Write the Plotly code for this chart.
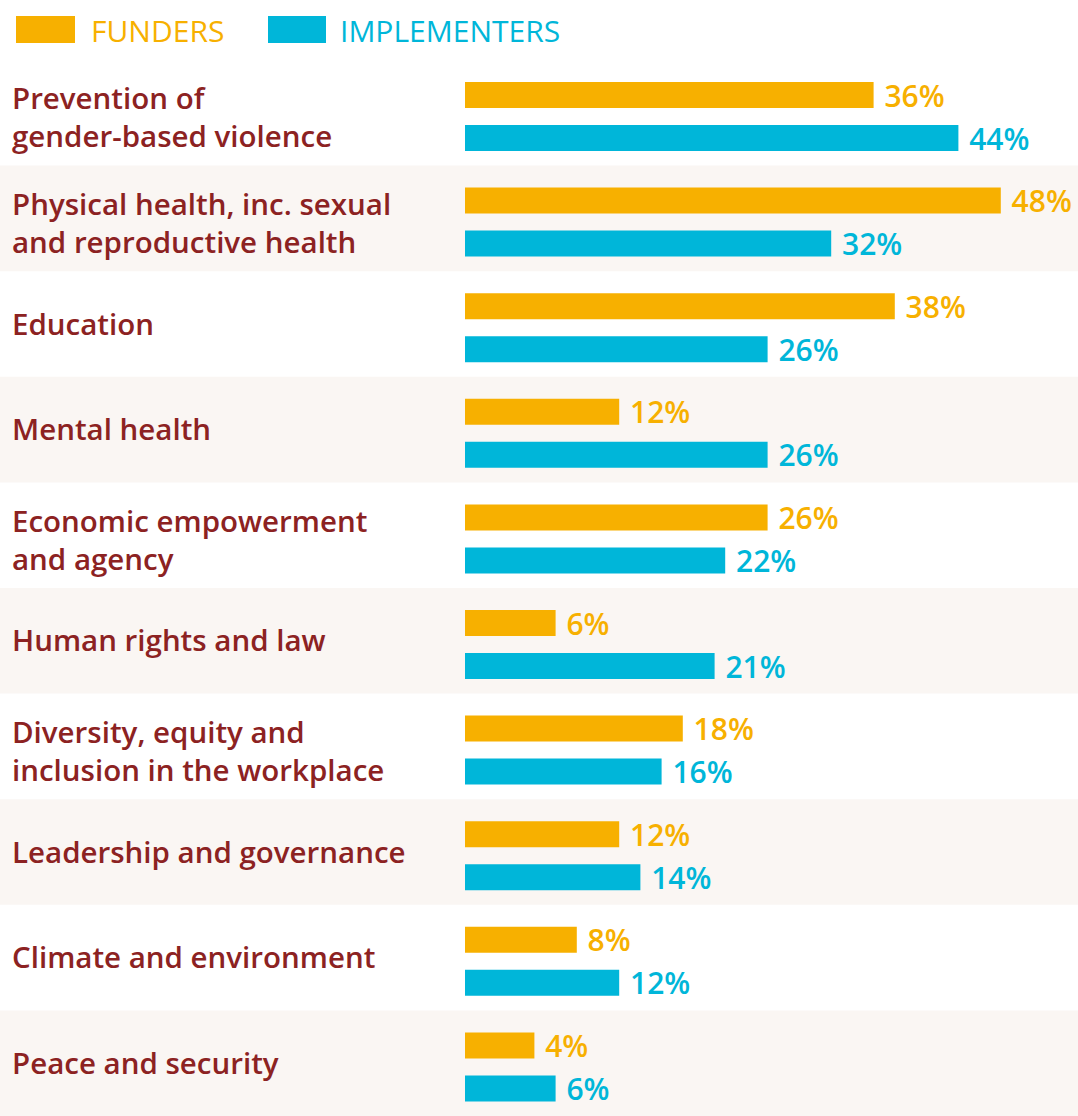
import plotly.graph_objects as go

categories = [
    "Prevention of gender-based violence",
    "Physical health, inc. sexual and reproductive health",
    "Education",
    "Mental health",
    "Economic empowerment and agency",
    "Human rights and law",
    "Diversity, equity and inclusion in the workplace",
    "Leadership and governance",
    "Climate and environment",
    "Peace and security",
]
category_labels = [
    "Prevention of<br>gender-based violence",
    "Physical health, inc. sexual<br>and reproductive health",
    "Education",
    "Mental health",
    "Economic empowerment<br>and agency",
    "Human rights and law",
    "Diversity, equity and<br>inclusion in the workplace",
    "Leadership and governance",
    "Climate and environment",
    "Peace and security",
]
funders = [36, 48, 38, 12, 26, 6, 18, 12, 8, 4]
implementers = [44, 32, 26, 26, 22, 21, 16, 14, 12, 6]
series_names = ["FUNDERS", "IMPLEMENTERS"]

W, H = 1078, 1116
ML, MT = 465, 60
PW = W - ML
PH = H - MT
ROW = PH / len(categories)
ORANGE = "#F7B000"
BLUE = "#00B6D9"
RED = "#8C2222"
SHADE = "#FAF6F3"
FONT = "Open Sans"

# bars start from a short stub left of zero, as in the original design
PX_PER = 10.6
STUB = -27 / PX_PER

BAR_W = 26 / ROW
OFF_F = -30.8 / ROW
OFF_I = 12.2 / ROW

fig = go.Figure()
for vals, col, name, off in [(funders, ORANGE, series_names[0], OFF_F),
                             (implementers, BLUE, series_names[1], OFF_I)]:
    fig.add_trace(go.Bar(
        y=categories, x=[v - STUB for v in vals], base=STUB, orientation="h", name=name,
        width=BAR_W, offset=off,
        marker=dict(color=col, line=dict(width=0)),
        text=[f" {v}%" for v in vals], textposition="outside",
        textfont=dict(family=FONT, size=30, color=col, weight=600),
        constraintext="none", cliponaxis=False,
    ))

x_left = -ML / PW
shapes = []
for i in range(len(categories)):
    if i % 2 == 1:
        shapes.append(dict(type="rect", xref="paper", yref="y",
                           x0=x_left, x1=1, y0=i - 0.5, y1=i + 0.5,
                           fillcolor=SHADE, line=dict(width=0), layer="below"))

annotations = []
for i, lab in enumerate(category_labels):
    two = "<br>" in lab
    annotations.append(dict(
        xref="paper", yref="y", x=(10 - ML) / PW, y=i, yshift=-4 if two else 1,
        text=lab, showarrow=False, xanchor="left", yanchor="middle", align="left",
        font=dict(family=FONT, size=29.5, color=RED, weight=600),
    ))

def px_x(p):
    return (p - ML) / PW
def px_y(p):
    return 1 - (p - MT) / PH

leg = [(16, 75, 92, ORANGE, series_names[0]), (268, 326, 341, BLUE, series_names[1])]
for x0, x1, tx, col, name in leg:
    shapes.append(dict(type="rect", xref="paper", yref="paper",
                       x0=px_x(x0), x1=px_x(x1), y0=px_y(43), y1=px_y(16),
                       fillcolor=col, line=dict(width=0)))
    annotations.append(dict(xref="paper", yref="paper", x=px_x(tx - 3), y=px_y(30),
                            text=name, showarrow=False, xanchor="left", yanchor="middle",
                            font=dict(family=FONT, size=30, color=col, weight=500)))

fig.update_layout(
    width=W, height=H,
    margin=dict(l=ML, r=0, t=MT, b=0, pad=0),
    barmode="overlay",
    paper_bgcolor="white", plot_bgcolor="rgba(0,0,0,0)",
    showlegend=False,
    shapes=shapes, annotations=annotations,
    xaxis=dict(range=[STUB, STUB + PW / PX_PER], visible=False, fixedrange=True),
    yaxis=dict(range=[len(categories) - 0.5, -0.5], visible=False,
               categoryorder="array", categoryarray=categories, fixedrange=True),
    font=dict(family=FONT),
)

fig.write_html("out.html", config={"displayModeBar": False},
               post_script="document.body.style.margin='0';")
